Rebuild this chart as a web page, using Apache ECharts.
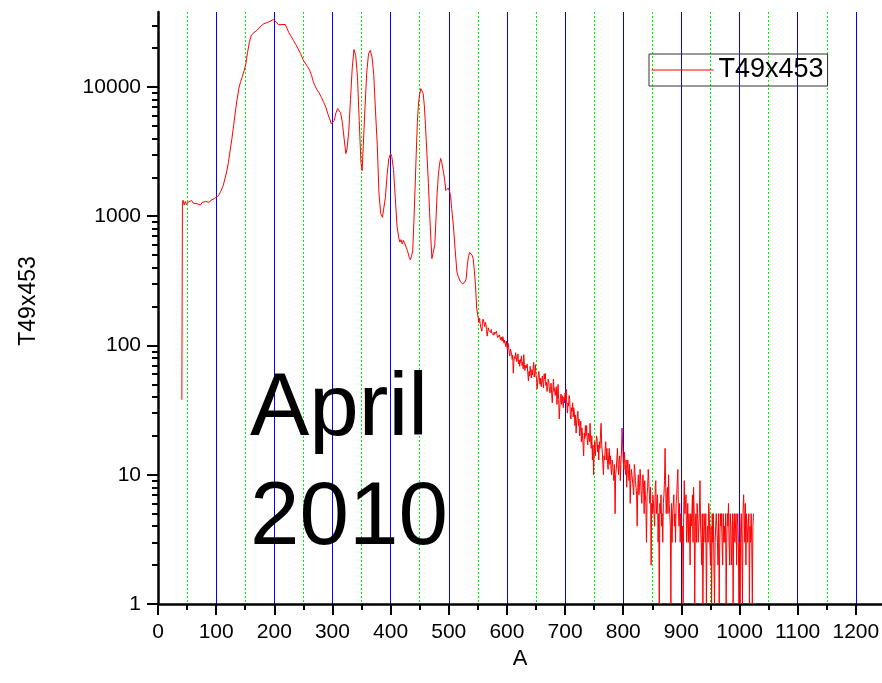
<!DOCTYPE html>
<html><head><meta charset="utf-8">
<script src="https://cdn.jsdelivr.net/npm/echarts@6/dist/echarts.min.js"></script>
<style>html,body{margin:0;padding:0;background:#fff}#c{width:882px;height:683px}</style>
</head><body><div id="c"></div>
<script>
const seriesName = 'T49x453';
const xAxisTitle = 'A';
const yAxisTitle = 'T49x453';
const annotationLines = ['April', '2010'];

// Low-channel part (channel, counts) read at irregular spacing
const peakChannels = [41,42,43,45,47,49,52,55,58,61,64,67,70,73,76,79,82,85,88,91,94,97,100,104,108,112,115,118,121,124,127,130,133,136,139,142,145,148,151,154,157,160,163,166,170,174,178,182,186,190,194,198,201,204,207,210,213,216,219,222,225,229,233,237,241,245,249,253,257,261,264,267,270,273,277,281,285,289,292,295,298,300,303,306,309,311,314,317,320,323,325,328,331,334,337,340,343,346,349,351,353,356,359,362,365,368,371,374,377,380,383,386,388,391,394,397,400,402,405,408,411,414,416,418,420,422,424,426,429,432,434,436,438,440,442,444,446,448,450,452,454,456,458,460,462,465,467,469,471,474,476,478,480,482,484,486,488,491,493,495,497,499,501,503,505,508,511,514,516,518,520,522,524,526,528,530,532,534,536,538,540,542,544,546,548,550];
const peakCounts = [38,1250,1330,1220,1300,1230,1290,1270,1320,1260,1300,1250,1290,1220,1280,1240,1300,1260,1280,1330,1310,1370,1400,1440,1560,1720,1940,2200,2600,3200,3950,5000,6400,8000,9700,11000,12000,13300,15000,18500,22000,24800,25900,26600,27400,28600,29900,30800,31300,31800,32500,33200,32700,31600,30300,29900,30400,30800,30400,28200,26300,24600,22900,21300,19700,18200,16400,15300,14400,13400,12300,11000,10200,9600,9000,8300,7600,6900,6200,5700,5200,5100,5500,6300,6800,6800,6300,5300,4000,3050,3300,4500,8000,14000,19500,17500,12000,5500,2600,2250,3500,7000,13000,18000,19200,17000,12500,6500,3600,1500,1050,980,1000,1400,2100,2800,3050,2900,2300,1400,840,680,630,660,610,650,620,600,540,480,460,490,540,900,1600,3000,5300,7500,8800,9700,9900,8900,7200,5000,3300,1800,1070,700,470,460,600,950,1500,2050,2500,2800,2600,2180,1900,1580,1600,1650,1580,1450,1150,840,550,370,345,335,310,315,300,290,310,330,420,490,525,520,500,470,380,290,195,170];

// High-channel noisy tail: one value per channel starting at tailStartChannel
const tailStartChannel = 552;
const tailCounts = [
150,162,148,139,135,129,152,160,165,148,140,151,145,133,118,128,137,131,128,135,126,133,125,129,126,120,127,122,118,124,129,121,115,118,112,121,120,110,116,113,108,117,114,104,110,105,98,108,
99,92,104,96,88,83,94,90,86,78,84,61,76,82,79,88,81,75,80,86,72,77,69,78,74,83,70,74,66,85,71,64,70,67,66,72,60,53,63,58,69,62,56,65,59,66,74,57,62,71,
58,55,46,52,60,63,54,50,56,48,53,58,51,47,60,55,61,49,52,44,48,55,52,46,43,48,51,42,36,45,55,44,47,41,40,48,35,42,50,38,27,33,39,42,35,41,37,33,40,36,
43,38,46,35,30,36,34,41,38,29,27,33,31,36,28,33,30,24,29,21,26,28,31,24,27,20,22,26,18,23,20,17,14,21,19,24,20,24,19,17,21,
21,18,25,19,16,20,13,17,10,15,18,14,14,20,19,15,17,13,18,16,21,25,17,15,12,10,14,13,16,18,13,16,12,11,14,16,12,14,11,10,13,12,10,9,12,5,10,11,13,16,12,10,13,14,9,12,15,23,17,13,
11,15,12,10,13,8,11,13,10,9,12,6,9,11,10,10,8,7,12,11,9,9,7,4,8,10,7,8,11,9,7,6,9,10,8,5,9,7,6,3,7,8,11,9,7,6,8,2,6,5,
7,7,5,4,8,9,5,6,7,3,5,1,6,5,7,4,5,3,6,7,9,16,8,5,7,8,5,10,6,5,4,1,6,3,5,5,7,4,5,3,6,7,9,11,5,4,6,3,5,5,
3,4,1,5,9,5,5,7,3,4,6,3,5,4,2,5,4,5,7,3,8,5,1,4,5,3,6,5,3,4,5,9,4,3,2,5,1,3,5,4,3,5,1,3,4,3,6,5,3,2,4,1,5,3,5,2,1,3,4,5,
4,3,2,5,1,3,5,4,5,3,2,5,3,4,3,5,1,3,5,4,6,3,2,5,4,2,3,5,1,4,5,3,3,5,2,4,5,3,1,3,1,4,5,3,1,5,7,5,3,6,2,5,4,3,4,5,1,4,3,5,3,1,4,5
];

const xMajorTicks = [0,100,200,300,400,500,600,700,800,900,1000,1100,1200];
const xMinorTicks = [50,150,250,350,450,550,650,750,850,950,1050,1150];
const yMajorTicks = [1,10,100,1000,10000];
const yMinorTicks = [2,3,4,5,6,7,8,9,20,30,40,50,60,70,80,90,200,300,400,500,600,700,800,900,2000,3000,4000,5000,6000,7000,8000,9000,20000,30000];

const FONT = '"Liberation Sans", Arial, sans-serif';
const chart = echarts.init(document.getElementById('c'), null, {renderer: 'canvas'});

const points = peakChannels.map((c, i) => [c, peakCounts[i]])
  .concat(tailCounts.map((v, i) => [tailStartChannel + i, v]));

const axisLineStyle = {color: '#000', width: 2.5};
const tickStyle = {color: '#000', width: 2};

chart.setOption({
  animation: false,
  backgroundColor: '#fff',
  grid: {left: 158, top: 12, right: 0, bottom: 79, containLabel: false, outerBoundsMode: 'none'},
  legend: {
    data: [{name: seriesName}],
    left: 649, top: 54,
    padding: [2, 4, 2, 2],
    itemWidth: 62, itemHeight: 14,
    itemStyle: {opacity: 0},
    lineStyle: {color: '#ff0000', width: 1},
    borderColor: '#333', borderWidth: 1,
    textStyle: {fontSize: 27, color: '#000', fontFamily: FONT, lineHeight: 28}
  },
  xAxis: [{
    type: 'value', min: 0, max: 1245, interval: 100, position: 'bottom', z: 1,
    name: xAxisTitle, nameLocation: 'middle', nameGap: 25,
    nameTextStyle: {fontSize: 22, color: '#000', fontFamily: FONT},
    axisLine: {show: true, onZero: false, lineStyle: axisLineStyle},
    axisTick: {show: true, inside: false, length: 11, lineStyle: tickStyle, customValues: xMajorTicks},
    axisLabel: {show: true, customValues: xMajorTicks, fontSize: 21, color: '#000', fontFamily: FONT, margin: 18, formatter: v => String(v)},
    splitLine: {show: true, showMinLine: false, showMaxLine: true, lineStyle: {color: '#0000ff', width: 1, type: 'solid'}}
  }, {
    type: 'value', min: 0, max: 1245, position: 'bottom', offset: 0, z: 0,
    axisLine: {show: false, onZero: false},
    axisTick: {show: true, inside: false, length: 6, lineStyle: tickStyle, customValues: xMinorTicks},
    axisLabel: {show: false},
    splitLine: {show: true, showMinLine: true, showMaxLine: true, lineStyle: {color: '#00ee00', width: 1, type: [2, 2]}}
  }],
  yAxis: [{
    type: 'log', logBase: 10, min: 1, max: 38000, position: 'left', z: 2,
    name: yAxisTitle, nameLocation: 'middle', nameGap: 118, nameRotate: 90,
    nameTextStyle: {fontSize: 23, color: '#000', fontFamily: FONT, padding: [0, 0, 0, 14]},
    axisLine: {show: true, onZero: false, lineStyle: axisLineStyle},
    axisTick: {show: true, inside: false, length: 11, lineStyle: tickStyle, customValues: yMajorTicks},
    axisLabel: {show: true, customValues: yMajorTicks, fontSize: 21, color: '#000', fontFamily: FONT, margin: 17, formatter: v => String(Math.round(v))},
    splitLine: {show: false}
  }, {
    type: 'log', logBase: 10, min: 1, max: 38000, position: 'left', offset: 0, z: 2,
    axisLine: {show: false, onZero: false},
    axisTick: {show: true, inside: false, length: 6, lineStyle: tickStyle, customValues: yMinorTicks},
    axisLabel: {show: false},
    splitLine: {show: false}
  }],
  graphic: annotationLines.map((t, i) => ({
    type: 'text', x: 250, y: 410 + i * 109, z: 10,
    style: {text: t, font: '89px ' + FONT, fill: '#000', align: 'left', verticalAlign: 'middle'}
  })),
  series: [{
    type: 'line', name: seriesName, xAxisIndex: 0, yAxisIndex: 0, z: 3,
    data: points,
    symbol: 'none', showSymbol: false, clip: true,
    lineStyle: {color: '#ff0000', width: 1},
    itemStyle: {color: '#ff0000'}
  }]
});
</script></body></html>
